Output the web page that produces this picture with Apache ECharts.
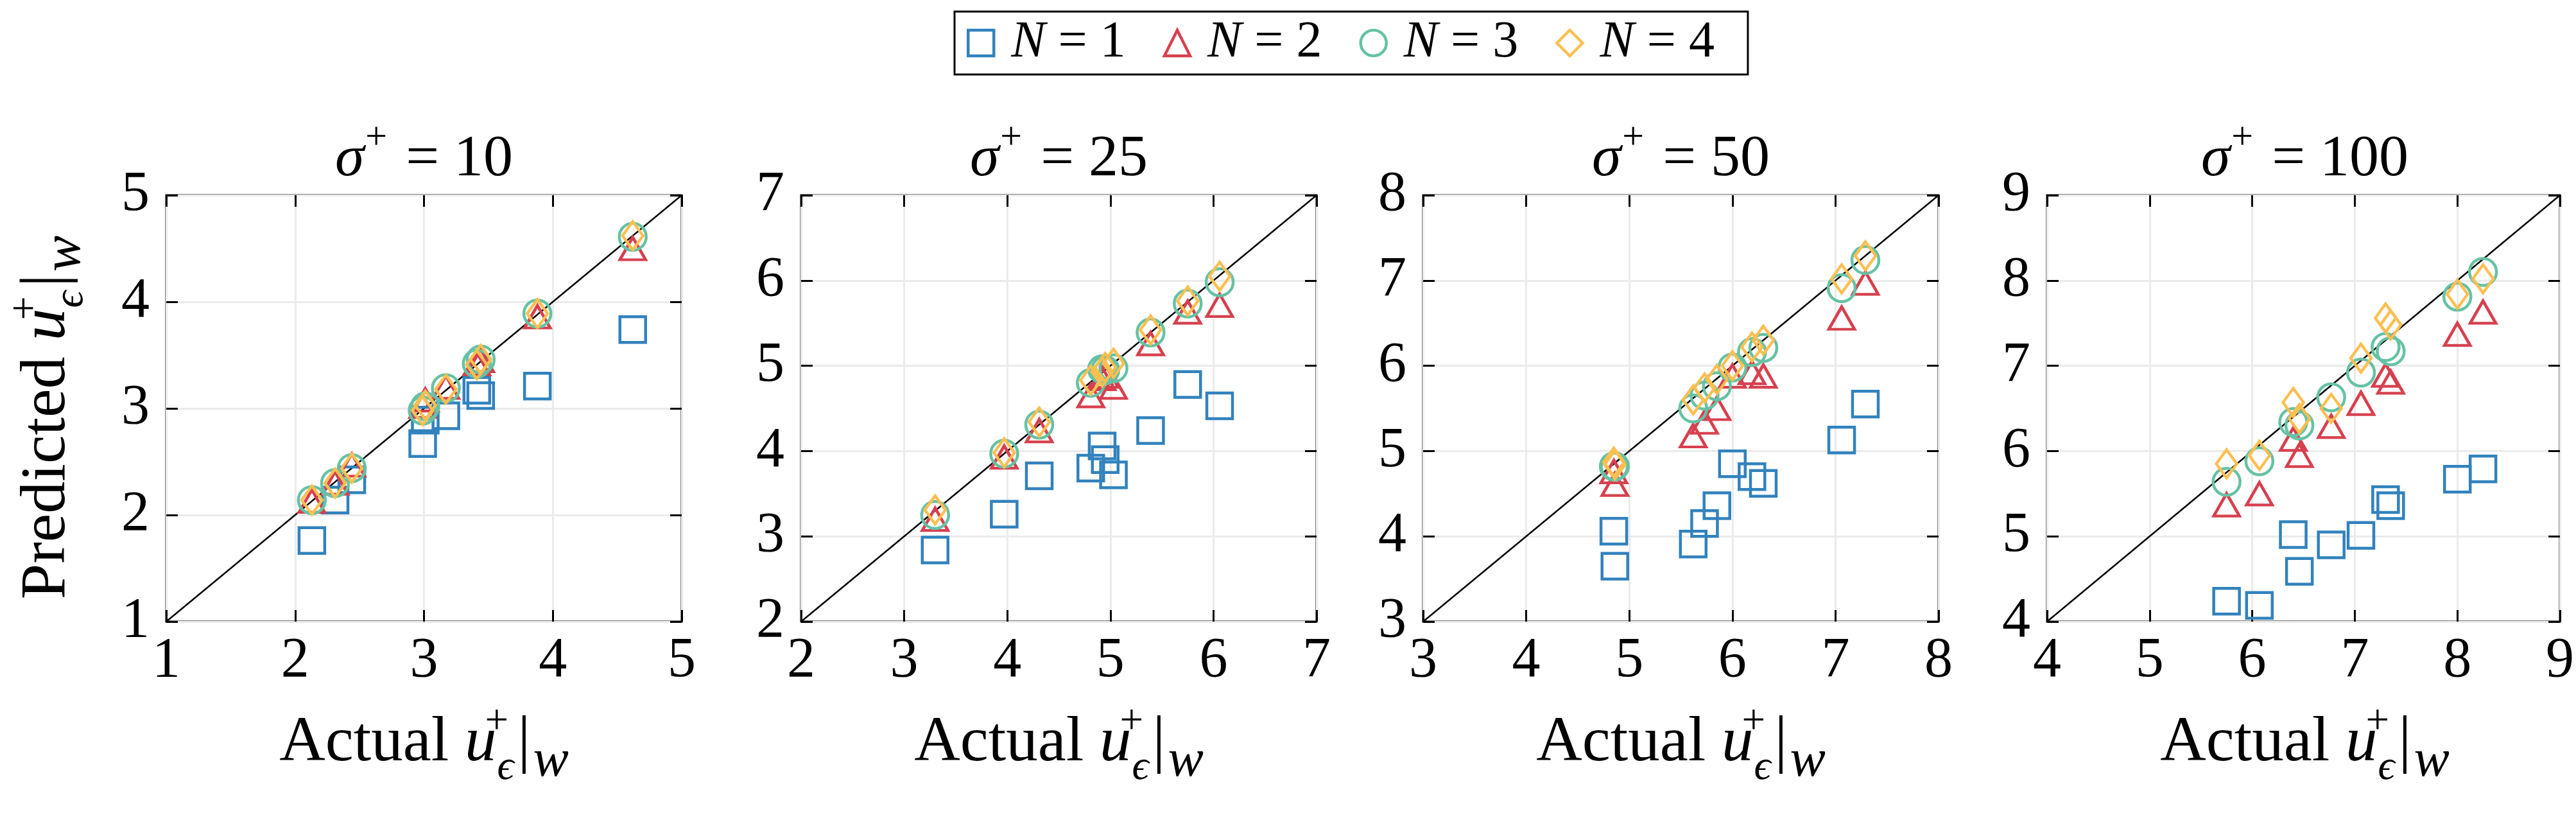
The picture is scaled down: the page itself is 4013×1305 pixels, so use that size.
<!DOCTYPE html>
<html>
<head>
<meta charset="utf-8">
<script src="https://cdn.jsdelivr.net/npm/echarts@6/dist/echarts.min.js"></script>
<style>
html,body{margin:0;padding:0;background:#fff;}
#chart{width:4013px;height:1305px;}
</style>
</head>
<body>
<div id="chart"></div>
<script>
// ---- data ----
const sigmaLabels = ['10', '25', '50', '100'];
const axisMin = [1, 2, 3, 4];
const axisMax = [5, 7, 8, 9];
const tickInterval = 1;
const seriesNames = ['N = 1', 'N = 2', 'N = 3', 'N = 4'];

const actual_s10  = [2.13, 2.31, 2.44, 2.99, 3.01, 3.17, 3.41, 3.44, 3.88, 4.62];
const pred_s10_N1 = [1.76, 2.14, 2.33, 2.67, 2.89, 2.93, 3.17, 3.12, 3.21, 3.74];
const pred_s10_N2 = [2.13, 2.30, 2.47, 3.02, 3.08, 3.20, 3.42, 3.45, 3.86, 4.50];
const pred_s10_N3 = [2.14, 2.30, 2.44, 2.98, 3.02, 3.19, 3.42, 3.46, 3.89, 4.61];
const pred_s10_N4 = [2.14, 2.30, 2.44, 2.98, 3.03, 3.18, 3.41, 3.46, 3.89, 4.62];

const actual_s25  = [3.30, 3.97, 4.31, 4.81, 4.92, 4.95, 5.03, 5.39, 5.75, 6.06];
const pred_s25_N1 = [2.84, 3.26, 3.71, 3.80, 4.06, 3.90, 3.72, 4.24, 4.78, 4.53];
const pred_s25_N2 = [3.20, 3.93, 4.24, 4.65, 4.85, 4.88, 4.75, 5.26, 5.63, 5.71];
const pred_s25_N3 = [3.25, 3.97, 4.31, 4.80, 4.96, 4.95, 4.97, 5.39, 5.73, 5.98];
const pred_s25_N4 = [3.31, 3.98, 4.34, 4.83, 4.93, 4.98, 5.03, 5.42, 5.76, 6.05];

const actual_s50  = [4.85, 4.86, 5.62, 5.73, 5.85, 6.00, 6.19, 6.30, 7.06, 7.29];
const pred_s50_N1 = [4.06, 3.65, 3.91, 4.15, 4.36, 4.85, 4.70, 4.62, 5.13, 5.55];
const pred_s50_N2 = [4.76, 4.61, 5.18, 5.34, 5.50, 5.88, 5.92, 5.88, 6.56, 6.97];
const pred_s50_N3 = [4.82, 4.82, 5.50, 5.65, 5.76, 5.98, 6.16, 6.21, 6.91, 7.24];
const pred_s50_N4 = [4.87, 4.84, 5.60, 5.74, 5.84, 6.00, 6.22, 6.30, 7.02, 7.29];

const actual_s100  = [5.75, 6.07, 6.40, 6.46, 6.77, 7.06, 7.30, 7.35, 8.00, 8.25];
const pred_s100_N1 = [4.24, 4.19, 5.02, 4.59, 4.90, 5.01, 5.43, 5.36, 5.67, 5.79];
const pred_s100_N2 = [5.37, 5.50, 6.14, 5.95, 6.29, 6.56, 6.89, 6.81, 7.37, 7.63];
const pred_s100_N3 = [5.64, 5.88, 6.34, 6.30, 6.63, 6.92, 7.22, 7.17, 7.81, 8.10];
const pred_s100_N4 = [5.85, 5.95, 6.57, 6.38, 6.50, 7.09, 7.56, 7.48, 7.84, 8.02];

const actualByPanel = [actual_s10, actual_s25, actual_s50, actual_s100];
const predByPanel = [
  [pred_s10_N1, pred_s10_N2, pred_s10_N3, pred_s10_N4],
  [pred_s25_N1, pred_s25_N2, pred_s25_N3, pred_s25_N4],
  [pred_s50_N1, pred_s50_N2, pred_s50_N3, pred_s50_N4],
  [pred_s100_N1, pred_s100_N2, pred_s100_N3, pred_s100_N4]
];

// ---- style / layout ----
const FONT = 'Liberation Serif';
const colors = ['#3182bd', '#d7404e', '#66c2a5', '#fdbf50'];
const symbols = ['rect', 'triangle', 'circle', 'diamond'];
const symbolSizes = [40, [40, 35], 42, [32, 44]];
const gridLeft = [259, 1248, 2217, 3189];
const gridTop = 304, gridW = 803, gridH = 664;

const grids = [], xAxes = [], yAxes = [], series = [], graphics = [];

const axisTickStyle = {show: true, inside: true, length: 18, lineStyle: {color: '#000', width: 3}};
const labelStyle = {fontFamily: FONT, fontSize: 88, color: '#000'};

function mathRich(base) {
  const lh = 140;
  return {
    n: {fontFamily: FONT, fontSize: base, lineHeight: lh, verticalAlign: 'middle'},
    i: {fontFamily: FONT, fontSize: base, fontStyle: 'italic', lineHeight: lh, verticalAlign: 'middle'},
    sup: {fontFamily: FONT, fontSize: Math.round(base * 0.66), lineHeight: lh, verticalAlign: 'top', width: 1, align: 'left', padding: [4, 0, 0, 0]},
    sub: {fontFamily: FONT, fontSize: Math.round(base * 0.66), fontStyle: 'italic', lineHeight: lh, verticalAlign: 'bottom', padding: [0, 6, 0, 0]},
    bar: {fontFamily: FONT, fontSize: base, lineHeight: lh, verticalAlign: 'middle'},
    w: {fontFamily: FONT, fontSize: Math.round(base * 0.84), fontStyle: 'italic', lineHeight: lh, verticalAlign: 'bottom', padding: [0, 0, 0, 4]}
  };
}

for (let p = 0; p < 4; p++) {
  grids.push({left: gridLeft[p], top: gridTop, width: gridW, height: gridH,
    show: true, borderColor: '#000', borderWidth: 3, backgroundColor: 'transparent'});
  const common = {gridIndex: p, min: axisMin[p], max: axisMax[p], interval: tickInterval,
    axisLine: {show: false}, axisTick: axisTickStyle};
  xAxes.push(Object.assign({}, common, {type: 'value', position: 'bottom',
    axisLabel: Object.assign({margin: 18}, labelStyle),
    splitLine: {show: true, lineStyle: {color: '#ebebeb', width: 3}}}));
  xAxes.push(Object.assign({}, common, {type: 'value', position: 'top',
    axisLabel: {show: false}, splitLine: {show: false}}));
  yAxes.push(Object.assign({}, common, {type: 'value', position: 'left',
    axisLabel: Object.assign({margin: 26}, labelStyle),
    splitLine: {show: true, lineStyle: {color: '#ebebeb', width: 3}}}));
  yAxes.push(Object.assign({}, common, {type: 'value', position: 'right',
    axisLabel: {show: false}, splitLine: {show: false}}));

  // diagonal reference line
  series.push({type: 'line', xAxisIndex: 2 * p, yAxisIndex: 2 * p,
    data: [[axisMin[p], axisMin[p]], [axisMax[p], axisMax[p]]],
    symbol: 'none', silent: true, z: 1,
    lineStyle: {color: '#000', width: 2.5}});

  for (let n = 0; n < 4; n++) {
    const xs = actualByPanel[p], ys = predByPanel[p][n];
    series.push({
      type: 'scatter', name: seriesNames[n], xAxisIndex: 2 * p, yAxisIndex: 2 * p,
      data: xs.map((x, i) => [x, ys[i]]),
      symbol: symbols[n], symbolSize: symbolSizes[n], z: 2 + n,
      itemStyle: {color: 'rgba(0,0,0,0)', borderColor: colors[n], borderWidth: 4.5, opacity: 1}
    });
  }

  const cx = gridLeft[p] + gridW / 2;
  // panel title
  graphics.push({type: 'text', x: cx, y: 240, style: {
    text: '{i|σ}{sup|+}{n| = ' + sigmaLabels[p] + '}',
    align: 'center', verticalAlign: 'middle',
    rich: {
      i: {fontFamily: FONT, fontSize: 92, fontStyle: 'italic', lineHeight: 110, verticalAlign: 'bottom'},
      sup: {fontFamily: FONT, fontSize: 60, lineHeight: 110, verticalAlign: 'top', padding: [0, 6, 0, 2]},
      n: {fontFamily: FONT, fontSize: 92, lineHeight: 110, verticalAlign: 'bottom'}
    }}});
  // x axis label
  graphics.push({type: 'text', x: cx, y: 1158, style: {
    text: '{n|Actual }{i|u}{sup|+}{sub|ϵ}{bar||}{w|w}',
    align: 'center', verticalAlign: 'middle', rich: mathRich(99)}});
}

// y axis label (only left panel)
graphics.push({type: 'text', x: 74, y: gridTop + gridH / 2 + 14, rotation: Math.PI / 2, style: {
  text: '{n|Predicted }{i|u}{sup|+}{sub|ϵ}{bar||}{w|w}',
  align: 'center', verticalAlign: 'middle', rich: mathRich(100)}});

const option = {
  backgroundColor: '#fff',
  animation: false,
  grid: grids,
  xAxis: xAxes,
  yAxis: yAxes,
  series: series,
  graphic: graphics,
  legend: {
    left: 1487, top: 18, orient: 'horizontal',
    borderColor: '#000', borderWidth: 3, borderRadius: 0,
    padding: [6, 52, 6, 19], itemGap: 58,
    itemWidth: 40, itemHeight: 40,
    data: seriesNames.map((nm, n) => ({name: nm, icon: symbols[n],
      itemStyle: {color: 'rgba(0,0,0,0)', borderColor: colors[n], borderWidth: 4.5}})),
    formatter: function (name) { return '{i|N}{n|' + name.slice(1) + '}'; },
    textStyle: {fontFamily: FONT, fontSize: 80, color: '#000', lineHeight: 86,
      rich: {
        i: {fontFamily: FONT, fontSize: 80, fontStyle: 'italic', padding: [0, 0, 0, 22], lineHeight: 86},
        n: {fontFamily: FONT, fontSize: 80, lineHeight: 86}
      }}
  }
};

const chart = echarts.init(document.getElementById('chart'), null, {renderer: 'canvas', width: 4013, height: 1305});
chart.setOption(option);
</script>
</body>
</html>
